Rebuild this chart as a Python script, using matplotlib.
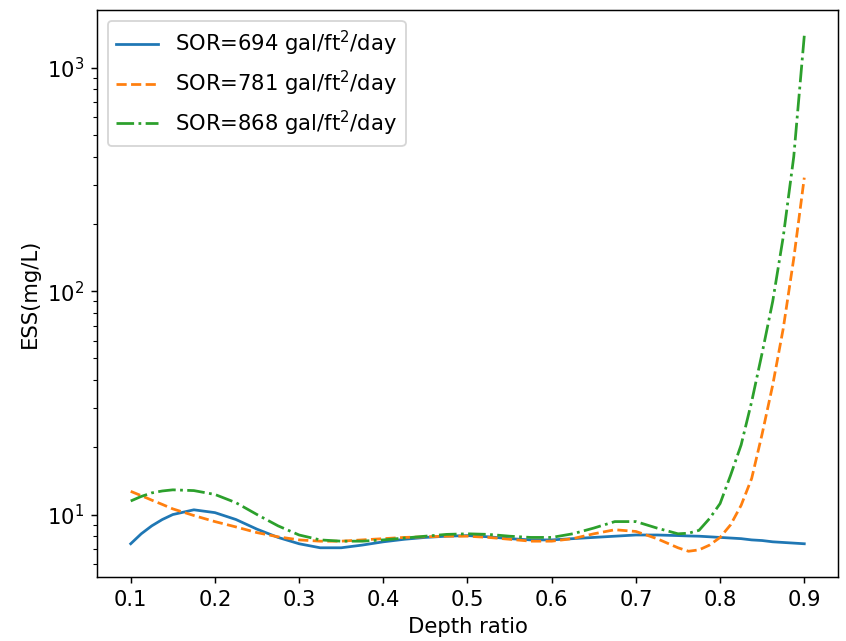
import matplotlib
matplotlib.use("Agg")
from matplotlib import pyplot as plt

# depth ratio sample points (denser where the curves shoot up)
depth = [0.100, 0.1125, 0.125, 0.1375, 0.150, 0.175, 0.200, 0.225, 0.250,
         0.275, 0.300, 0.325, 0.350, 0.375, 0.400, 0.425, 0.450, 0.475,
         0.500, 0.525, 0.550, 0.575, 0.600, 0.625, 0.650, 0.675, 0.700,
         0.725, 0.750, 0.7625, 0.775, 0.7875, 0.800, 0.8125, 0.825,
         0.8375, 0.850, 0.8625, 0.875, 0.8875, 0.900]

ess_694 = [7.4, 8.2, 8.9, 9.5, 10.0, 10.5, 10.2, 9.5, 8.6,
           7.9, 7.4, 7.1, 7.1, 7.3, 7.55, 7.75, 7.9, 8.0,
           8.05, 7.95, 7.8, 7.7, 7.7, 7.8, 7.9, 8.0, 8.1,
           8.1, 8.05, 8.02, 8.0, 7.95, 7.9, 7.85, 7.8,
           7.7, 7.65, 7.55, 7.5, 7.45, 7.4]

ess_781 = [12.7, 12.15, 11.6, 11.1, 10.6, 9.9, 9.3, 8.8, 8.3,
           7.95, 7.7, 7.6, 7.6, 7.7, 7.8, 7.9, 7.95, 8.0,
           8.0, 7.9, 7.75, 7.6, 7.6, 7.8, 8.2, 8.55, 8.4,
           7.8, 7.1, 6.85, 6.95, 7.3, 7.9, 9.0, 11.0,
           14.5, 23.0, 38.0, 68.0, 140.0, 322.0]

ess_868 = [11.5, 12.05, 12.5, 12.75, 12.9, 12.8, 12.3, 11.3, 10.0,
           8.9, 8.1, 7.7, 7.6, 7.6, 7.7, 7.85, 8.0, 8.15,
           8.2, 8.15, 8.0, 7.9, 7.9, 8.2, 8.7, 9.3, 9.3,
           8.7, 8.2, 8.25, 8.5, 9.6, 11.2, 15.0, 20.5,
           32.0, 53.0, 90.0, 175.0, 400.0, 1390.0]

labels = ["SOR=694 gal/ft$^2$/day",
          "SOR=781 gal/ft$^2$/day",
          "SOR=868 gal/ft$^2$/day"]


def go():
    plt.rcParams["font.size"] = 11.5
    fig = plt.figure(figsize=(846 / 132, 641 / 132), dpi=132)
    ax = fig.add_axes([0.1147, 0.0998, 0.8758, 0.8846])
    ax.plot(depth, ess_694, "-", color="tab:blue", label=labels[0])
    ax.plot(depth, ess_781, "--", color="tab:orange", label=labels[1])
    ax.plot(depth, ess_868, "-.", color="tab:green", label=labels[2])
    ax.set_yscale("log")
    ax.set_xlabel("Depth ratio")
    ax.set_ylabel("ESS(mg/L)")
    ax.legend(loc="upper left")
    fig.savefig("out.png", dpi=132)


go()
